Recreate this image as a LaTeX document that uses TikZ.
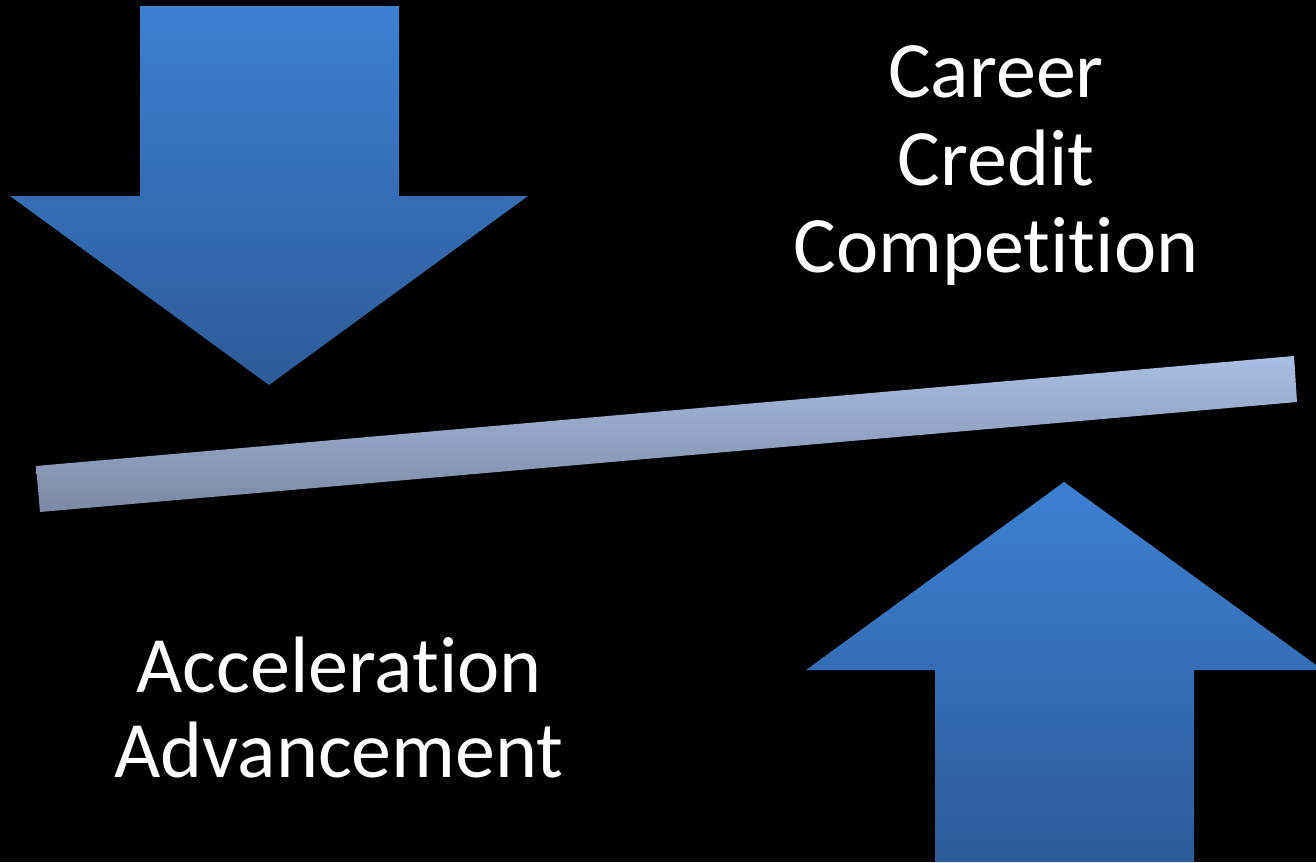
\documentclass[tikz,border=0pt]{standalone}
\usepackage{fontspec}
\setmainfont[Ligatures={NoCommon}]{Carlito}
\definecolor{arrtop}{HTML}{3D80D3}
\definecolor{arrbot}{HTML}{2D5B98}
\definecolor{bartop}{HTML}{AABEE3}
\definecolor{barbot}{HTML}{7B89A4}
\tikzset{
  bigarrow/.style={top color=arrtop, bottom color=arrbot, draw=none},
  beam/.style={top color=bartop, bottom color=barbot, draw=none},
  label/.style={text=white, inner sep=0pt, anchor=base, font=\fontsize{80}{88}\selectfont}
}
\begin{document}
\begin{tikzpicture}[x=1pt,y=-1pt]
\fill[black] (0,0) rectangle (1316,862);
\useasboundingbox (0,0) rectangle (1316,862);
\begin{scope}
\clip (0,0) rectangle (1316,862);
% down arrow
\path[bigarrow] (140,6) -- (399,6) -- (399,196) -- (528,196) -- (269,385) -- (10,196) -- (140,196) -- cycle;
% up arrow
\path[bigarrow] (1064,482) -- (1323,670) -- (1194,670) -- (1194,862) -- (935,862) -- (935,670) -- (806,670) -- cycle;
% beam
\path[beam] (36,466) -- (1294,356) -- (1297,402) -- (40,512) -- cycle;
\end{scope}
\node[label] (c1) at (996,97) {Career};
\node[label] (c2) at (996,185) {Credit};
\node[label] (c3) at (996,272) {Competition};
\node[label] (a1) at (339,692) {Acceleration};
\node[label] (a2) at (339,777) {Advancement};
\end{tikzpicture}
\end{document}
